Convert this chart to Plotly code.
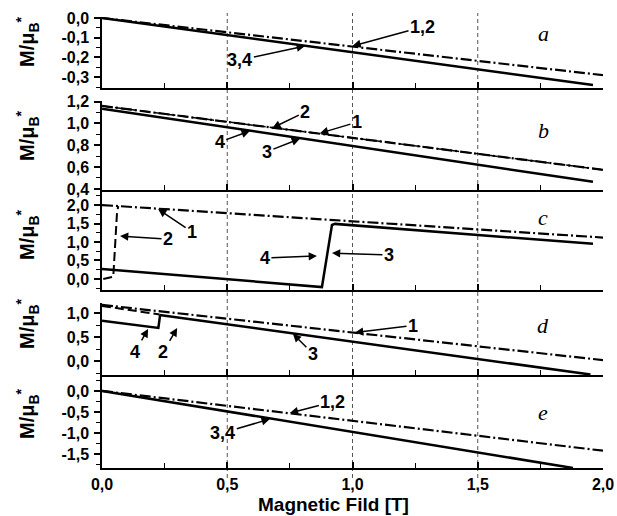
import plotly.graph_objects as go

# ---------------- data ----------------
# panel a
a_x12 = [0.0, 2.0]
a_y12 = [0.0, -0.29]
a_x34 = [0.0, 1.96]
a_y34 = [0.0, -0.34]
# panel b
b_x1 = [0.0, 2.0]
b_y1 = [1.16, 0.575]
b_x2 = [0.0, 2.0]
b_y2 = [1.16, 0.575]
b_x34 = [0.0, 1.96]
b_y34 = [1.135, 0.465]
# panel c
c_x1 = [0.0, 2.0]
c_y1 = [2.0, 1.12]
c_x2 = [0.005, 0.045, 0.06, 0.065]
c_y2 = [0.0, 0.06, 1.8, 1.97]
c_x34 = [0.0, 0.878, 0.918, 0.93, 1.96]
c_y34 = [0.27, -0.22, 1.46, 1.49, 0.95]
# panel d
d_x1 = [0.0, 2.0]
d_y1 = [1.17, 0.02]
d_x2 = [0.0, 0.23]
d_y2 = [1.15, 0.97]
d_x3 = [0.23, 1.95]
d_y3 = [0.96, -0.28]
d_x4 = [0.0, 0.215, 0.225, 0.232]
d_y4 = [0.84, 0.685, 0.69, 0.96]
# panel e
e_x12 = [0.0, 2.0]
e_y12 = [0.0, -1.42]
e_x34 = [0.0, 1.88]
e_y34 = [0.0, -1.83]

# tick values / labels
x_ticks = [0.0, 0.5, 1.0, 1.5, 2.0]
x_labels = ["0,0", "0,5", "1,0", "1,5", "2,0"]
grid_x = [0.5, 1.0, 1.5]
ya_ticks = [0.0, -0.1, -0.2, -0.3]
ya_labels = ["0,0", "-0,1", "-0,2", "-0,3"]
yb_ticks = [0.4, 0.6, 0.8, 1.0, 1.2]
yb_labels = ["0,4", "0,6", "0,8", "1,0", "1,2"]
yc_ticks = [0.0, 0.5, 1.0, 1.5, 2.0]
yc_labels = ["0,0", "0,5", "1,0", "1,5", "2,0"]
yd_ticks = [0.0, 0.5, 1.0]
yd_labels = ["0,0", "0,5", "1,0"]
ye_ticks = [0.0, -0.5, -1.0, -1.5]
ye_labels = ["0,0", "-0,5", "-1,0", "-1,5"]

# curve labels: (panel, text, x, y, ax, ay)
curve_labels = [
    (1, "1,2", 1.0, -0.142, 70, -19),
    (1, "3,4", 0.81, -0.142, -65, 14),
    (2, "2", 0.68, 0.958, 33, -16),
    (2, "1", 0.87, 0.91, 37, -11),
    (2, "4", 0.59, 0.93, -30, 11),
    (2, "3", 0.79, 0.86, -33, 13),
    (3, "1", 0.224, 1.89, 34, 23),
    (3, "2", 0.072, 1.16, 48, 3),
    (3, "4", 0.858, 0.62, -52, 2),
    (3, "3", 0.918, 0.70, 57, 2),
    (4, "1", 1.01, 0.595, 58, -7),
    (4, "3", 0.762, 0.57, 20, 20),
    (4, "4", 0.184, 0.67, -13, 23),
    (4, "2", 0.30, 0.69, -14, 24),
    (5, "1,2", 0.75, -0.524, 43, -11),
    (5, "3,4", 0.67, -0.667, -47, 14),
]
panel_letters = ["a", "b", "c", "d", "e"]

# ---------------- layout geometry ----------------
W, H = 617, 516
ML, MR, MT, MB = 102, 14, 17, 48
PH = H - MT - MB
PW = W - ML - MR


def py2paper(py):
    return (H - MB - py) / PH


def px2paper(px):
    return (px - ML) / PW


panel_px = [(17, 88), (101, 190), (191, 290), (303, 375), (377, 468)]
y_ranges = [[-0.355, 0.005], [0.39, 1.205], [-0.3, 2.38], [-0.29, 1.21], [-1.83, 0.33]]
y_ticks = [ya_ticks, yb_ticks, yc_ticks, yd_ticks, ye_ticks]
y_labels = [ya_labels, yb_labels, yc_labels, yd_labels, ye_labels]
y_minor = [0.05, 0.1, 0.25, 0.25, 0.25]
title_py = [42, 136, 235, 324, 414]
letter_py = [33, 130, 217, 325, 412]

DASHDOT = "11px,3px,2px,3px"
DASH = "9px,4px"

fig = go.Figure()


def add(x, y, k, dash, width):
    sfx = "" if k == 1 else str(k)
    fig.add_trace(go.Scatter(x=x, y=y, mode="lines", xaxis="x" + sfx, yaxis="y" + sfx,
                             line=dict(color="black", width=width, dash=dash),
                             showlegend=False, hoverinfo="skip"))


add(a_x12, a_y12, 1, DASHDOT, 2.2)
add(a_x34, a_y34, 1, "solid", 2.5)
add(b_x1, b_y1, 2, DASHDOT, 2.2)
add(b_x2, b_y2, 2, DASH, 1.5)
add(b_x34, b_y34, 2, "solid", 2.5)
add(c_x1, c_y1, 3, DASHDOT, 2.2)
add(c_x2, c_y2, 3, DASH, 2)
add(c_x34, c_y34, 3, "solid", 2.5)
add(d_x1, d_y1, 4, DASHDOT, 2.2)
add(d_x2, d_y2, 4, DASH, 2)
add(d_x3, d_y3, 4, "solid", 2.5)
add(d_x4, d_y4, 4, "solid", 2.5)
add(e_x12, e_y12, 5, DASHDOT, 2.2)
add(e_x34, e_y34, 5, "solid", 2.5)

tickfont = dict(family="Liberation Sans, Arial", size=16, color="black", weight="bold")
layout = dict(
    width=W, height=H, margin=dict(l=ML, r=MR, t=MT, b=MB, autoexpand=False),
    plot_bgcolor="white", paper_bgcolor="white", showlegend=False,
)
for i in range(5):
    k = i + 1
    sfx = "" if k == 1 else str(k)
    top, bot = panel_px[i]
    layout["xaxis" + sfx] = dict(
        domain=[0, 1], anchor="y" + sfx, range=[0, 2.0], automargin=False,
        showline=True, linecolor="black", linewidth=1.5, mirror=False,
        showgrid=False, zeroline=False,
        tickmode="array", tickvals=x_ticks, ticktext=x_labels,
        ticks="inside", ticklen=6, tickwidth=1.5, tickcolor="black",
        minor=dict(dtick=0.25, tick0=0, ticks="inside", ticklen=5, tickwidth=1.2, tickcolor="black", showgrid=False),
        showticklabels=(k == 5), tickfont=tickfont, ticklabelstandoff=1,
    )
    layout["yaxis" + sfx] = dict(
        domain=[py2paper(bot), py2paper(top)], anchor="x" + sfx, range=y_ranges[i], automargin=False,
        showline=True, linecolor="black", linewidth=1.5,
        showgrid=False, zeroline=False,
        tickmode="array", tickvals=y_ticks[i], ticktext=y_labels[i],
        ticks="outside", ticklen=6, tickwidth=1.5, tickcolor="black",
        minor=dict(dtick=y_minor[i], tick0=0, ticks="outside", ticklen=4, tickwidth=1.2, tickcolor="black", showgrid=False),
        tickfont=tickfont, ticklabelstandoff=2,
    )
fig.update_layout(**layout)

# vertical dashed grid lines crossing all panels
for gx in grid_x:
    fig.add_shape(type="line", xref="x5", yref="paper", x0=gx, x1=gx,
                  y0=py2paper(478), y1=py2paper(13),
                  line=dict(color="#555555", width=1, dash="4px,3px"), layer="below")

# y titles and panel letters
for i in range(5):
    fig.add_annotation(xref="paper", yref="paper", x=px2paper(27), y=py2paper(title_py[i]),
                       text="M/μ<sub>B</sub><sup>*</sup>", textangle=-90, showarrow=False,
                       xanchor="center", yanchor="middle",
                       font=dict(family="Liberation Sans, Arial", size=20, color="black", weight="bold"))
    fig.add_annotation(xref="paper", yref="paper", x=px2paper(543), y=py2paper(letter_py[i]),
                       text=panel_letters[i], showarrow=False, xanchor="center", yanchor="middle",
                       font=dict(family="Liberation Serif, Times New Roman", size=22, color="black", style="italic"))

# x title
fig.add_annotation(xref="paper", yref="paper", x=px2paper(333), y=py2paper(516),
                   text="Magnetic Fild [T]", showarrow=False, xanchor="center", yanchor="bottom",
                   borderpad=0,
                   font=dict(family="Liberation Sans, Arial", size=19, color="black", weight="bold"))

# curve labels with arrows
for (k, txt, x, y, ax, ay) in curve_labels:
    sfx = "" if k == 1 else str(k)
    fig.add_annotation(xref="x" + sfx, yref="y" + sfx, x=x, y=y, ax=ax, ay=ay,
                       text=txt, showarrow=True, arrowhead=2, arrowsize=1.1, arrowwidth=1.5,
                       arrowcolor="black", standoff=0,
                       font=dict(family="Liberation Sans, Arial", size=18, color="black", weight="bold"))

fig.write_html("out.html")
